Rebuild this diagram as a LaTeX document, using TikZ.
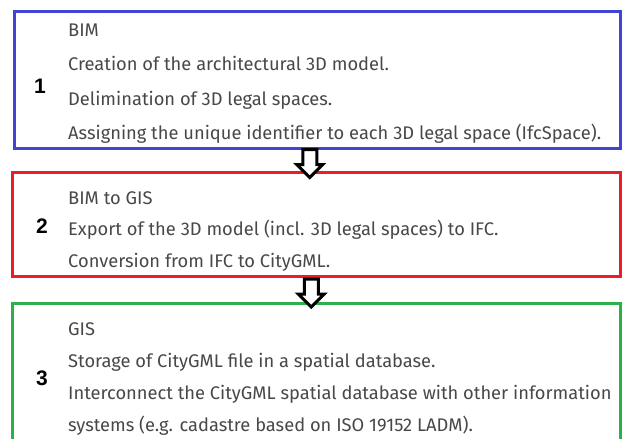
\documentclass[tikz,border=0pt]{standalone}
\usepackage{fontspec}
\setmainfont{Fira Sans}
\newfontfamily\numfont{Liberation Sans}
\usepackage{tikz}
\usetikzlibrary{arrows.meta,positioning,calc,shapes.arrows}
\definecolor{bimblue}{RGB}{66,66,212}
\definecolor{gisred}{RGB}{232,30,42}
\definecolor{gisgreen}{RGB}{44,176,74}
\definecolor{txtgray}{RGB}{72,72,72}
\tikzset{
	phase/.style={draw, line width=3pt, fill=white, inner sep=0pt},
	body/.style={anchor=west, align=left, inner sep=0pt, text=txtgray},
	num/.style={font=\numfont\bfseries\fontsize{21}{21}\selectfont, inner sep=0pt},
	hollow/.style={single arrow, draw, fill=white, line width=3pt, shape border rotate=270,
		minimum height=28pt, inner sep=5.5pt, single arrow head extend=6pt}
}

\begin{document}
\begin{tikzpicture}[x=1pt, y=-1pt]
	\useasboundingbox (0,0) rectangle (622,439);
	\node[phase, draw=bimblue, minimum width=606.5pt, minimum height=136.5pt] (bim) at (317.25, 79.75) {};
	\node[phase, draw=gisred, minimum width=608.5pt, minimum height=104pt] (bimgis) at (316.25, 224) {};
	\node[phase, draw=gisgreen, minimum width=608.5pt, minimum height=138pt] (gis) at (316.25, 372) {};
	% step 1
	\node[num] (n1) at (40, 86) {1};
	\node[body, font=\fontsize{18.3}{34.3}\selectfont] (t1) at (68, 83.5) {BIM\\
		Creation of the architectural 3D model.\\
		Delimination of 3D legal spaces.\\
		Assigning the unique identifier to each 3D legal space (IfcSpace).};
	% step 2
	\node[num] (n2) at (42, 226) {2};
	\node[body, font=\fontsize{18.3}{31.5}\selectfont] (t2) at (68, 231.5) {BIM to GIS\\
		Export of the 3D model (incl. 3D legal spaces) to IFC.\\
		Conversion from IFC to CityGML.};
	% step 3
	\node[num] (n3) at (42, 378) {3};
	\node[body, font=\fontsize{18.3}{32}\selectfont] (t3) at (68, 379) {GIS\\
		Storage of CityGML file in a spatial database.\\
		Interconnect the CityGML spatial database with other information\\
		systems (e.g. cadastre based on ISO 19152 LADM).};
	\node[hollow] (a1) at ($(bim.south)!0.5!(bimgis.north)+(-7,0)$) {};
	\node[hollow] (a2) at ($(bimgis.south)!0.5!(gis.north)+(-5,0)$) {};
\end{tikzpicture}
\end{document}
